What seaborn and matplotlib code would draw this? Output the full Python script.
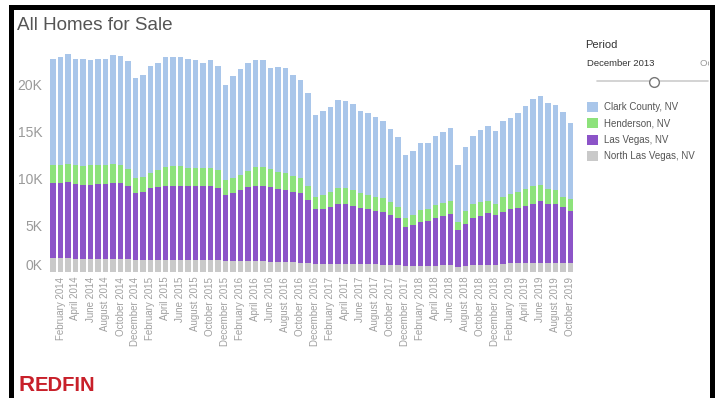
import numpy as np
import pandas as pd
import matplotlib
matplotlib.use("Agg")
import matplotlib.pyplot as plt
import matplotlib.transforms as mtransforms
from matplotlib.patches import Patch, Rectangle
from matplotlib.lines import Line2D
import seaborn as sns

# ---------------- data ----------------
months = pd.date_range("2014-01-01", periods=70, freq="MS").strftime("%B %Y").tolist()

clark = [11230, 11470, 11760, 11380, 11330, 11280, 11380, 11380, 11660, 11660,
         11420, 10660, 10850, 11420, 11470, 11660, 11620, 11620, 11520, 11420,
         11180, 11570, 11140, 10180, 10940, 11230, 11520, 11380, 11380, 10850,
         11180, 11140, 10750, 10460, 9890, 8740, 8930, 9020, 9410, 9360,
         9170, 8740, 8780, 8540, 8260, 7730, 7390, 6770, 6770, 7100,
         7060, 7340, 7630, 7730, 6050, 6820, 7200, 7680, 7970, 7730,
         8110, 8110, 8450, 8880, 9310, 9500, 9170, 9020, 9020, 8060]

henderson = [1970, 1920, 1920, 1970, 2020, 2060, 2020, 2020, 2020, 1970,
             1870, 1580, 1630, 1630, 1780, 2020, 2060, 2060, 1970, 2020,
             2020, 1920, 1920, 1580, 1580, 1680, 1780, 2060, 2060, 1920,
             1870, 1780, 1730, 1580, 1490, 1340, 1490, 1580, 1730, 1680,
             1780, 1680, 1540, 1490, 1440, 1390, 1250, 960, 1100, 1250,
             1250, 1440, 1390, 1390, 910, 1440, 1540, 1540, 1340, 1150,
             1580, 1630, 1780, 1820, 1870, 1680, 1580, 1540, 1060, 1250]

las_vegas = [8020, 8060, 8110, 8020, 7920, 7920, 7970, 7970, 8060, 8110,
             7820, 7150, 7300, 7630, 7780, 7920, 7920, 7920, 7920, 7870,
             7870, 7870, 7680, 7060, 7250, 7540, 7870, 8020, 8020, 7920,
             7730, 7730, 7490, 7390, 6720, 5810, 5900, 6100, 6340, 6380,
             6140, 5950, 5860, 5710, 5660, 5330, 4990, 4080, 4320, 4700,
             4750, 5040, 5230, 5470, 3980, 4420, 4990, 5180, 5470, 5330,
             5570, 5760, 5860, 6050, 6290, 6580, 6240, 6290, 6000, 5620]

north_las_vegas = [1440, 1440, 1440, 1390, 1390, 1390, 1390, 1390, 1390, 1340,
                   1340, 1250, 1250, 1300, 1300, 1300, 1300, 1300, 1250, 1250,
                   1250, 1250, 1250, 1150, 1150, 1150, 1150, 1150, 1150, 1100,
                   1100, 1060, 1060, 1010, 960, 860, 860, 860, 860, 860,
                   860, 820, 820, 820, 770, 770, 720, 670, 670, 670,
                   670, 670, 720, 720, 480, 670, 720, 770, 770, 770,
                   860, 910, 910, 960, 960, 1010, 1010, 960, 960, 910]

series_names = ["Clark County, NV", "Henderson, NV", "Las Vegas, NV", "North Las Vegas, NV"]
series_colors = ["#a9c6ea", "#8de27b", "#8c54c8", "#c9c9c9"]
ytick_values = [0, 5000, 10000, 15000, 20000]
ytick_labels = ["0K", "5K", "10K", "15K", "20K"]

# ---------------- figure ----------------
sns.set_theme(style="white")
plt.rcParams["font.family"] = ["Liberation Sans", "DejaVu Sans"]

W, H = 718, 398
fig = plt.figure(figsize=(W / 100, H / 100), dpi=100)
fig.patch.set_facecolor("white")

px_per_k = 9.38
ax_top, ax_bot = 50, 272
ax = fig.add_axes([49.25 / W, (H - ax_bot) / H, 525 / W, (ax_bot - ax_top) / H])

df = pd.DataFrame({"month": months, "clark": clark, "henderson": henderson,
                   "las_vegas": las_vegas, "nlv": north_las_vegas})
df["top_nlv"] = df["nlv"]
df["top_lv"] = df["top_nlv"] + df["las_vegas"]
df["top_hend"] = df["top_lv"] + df["henderson"]
df["top_clark"] = df["top_hend"] + df["clark"]

for col, color in zip(["top_clark", "top_hend", "top_lv", "top_nlv"], series_colors):
    sns.barplot(data=df, x="month", y=col, order=months, color=color,
                saturation=1, width=0.67, errorbar=None, linewidth=0, ax=ax)

ax.set_xlim(-0.5, len(months) - 0.5)
ax.set_ylim(0, (ax_bot - ax_top) / px_per_k * 1000)
ax.set_xlabel("")
ax.set_ylabel("")
sns.despine(ax=ax, left=True, bottom=True)
ax.tick_params(length=0)

ax.set_yticks(ytick_values)
ax.set_yticklabels(ytick_labels, fontsize=10, color="#9a9a9a")
ax.tick_params(axis="y", pad=5)
lbl0 = ax.get_yticklabels()[0]
lbl0.set_transform(lbl0.get_transform() +
                   mtransforms.ScaledTranslation(0, 7 / 100, fig.dpi_scale_trans))

ax.set_xticks(range(1, len(months), 2))
ax.set_xticklabels(months[1::2], rotation=90, fontsize=7, color="#a0a0a0")
ax.tick_params(axis="x", pad=3.5)

# title
fig.text(17 / W, 1 - 25 / H, "All Homes for Sale", fontsize=13.6, color="#555555",
         ha="left", va="center")

# legend / period control
fig.text(585 / W, 1 - 45 / H, "Period", fontsize=8, color="#333333", ha="left", va="center")
fig.text(587 / W, 1 - 63 / H, "December 2013", fontsize=6.8, color="#333333",
         ha="left", va="center")
end_lbl = fig.text(700 / W, 1 - 63 / H, "October 2019", fontsize=6.8, color="#999999",
                   ha="left", va="center")
end_lbl.set_clip_box(mtransforms.Bbox.from_extents(0, 0, 709, H))
end_lbl.set_clip_on(True)
fig.add_artist(Line2D([597 / W, 708 / W], [1 - 81 / H, 1 - 81 / H],
                      color="#cccccc", lw=1.2, transform=fig.transFigure))
fig.add_artist(Line2D([654 / W], [1 - 82 / H], marker="o", ms=7, mfc="white",
                      mec="#777777", mew=1, transform=fig.transFigure))

handles = [Patch(facecolor=c, edgecolor="none", label=n)
           for n, c in zip(series_names, series_colors)]
ax.legend(handles=handles, loc="upper left", bbox_to_anchor=(587 / W, 1 - 102 / H),
          bbox_transform=fig.transFigure, frameon=False, fontsize=7,
          handlelength=1.15, handleheight=1.15, handletextpad=0.55,
          labelspacing=0.65, borderpad=0, borderaxespad=0, labelcolor="#555555")

# logo
fig.text(18 / W, 1 - 391 / H, "R", fontsize=16, fontweight="bold", color="#c8202a",
         ha="left", va="baseline")
fig.text(35 / W, 1 - 391 / H, "EDFIN", fontsize=14.5, fontweight="bold", color="#c8202a",
         ha="left", va="baseline")

# frame
fig.add_artist(Rectangle((713.5 / W, 0), 5 / W, 1, transform=fig.transFigure,
                         facecolor="white", edgecolor="none", zorder=10))
fig.add_artist(Rectangle((10.5 / W, -0.05), 701 / W, 1.05 - 7.5 / H,
                         transform=fig.transFigure, facecolor="none",
                         edgecolor="black", lw=3.6, zorder=11))

fig.savefig("out.png", dpi=100, facecolor="white")
